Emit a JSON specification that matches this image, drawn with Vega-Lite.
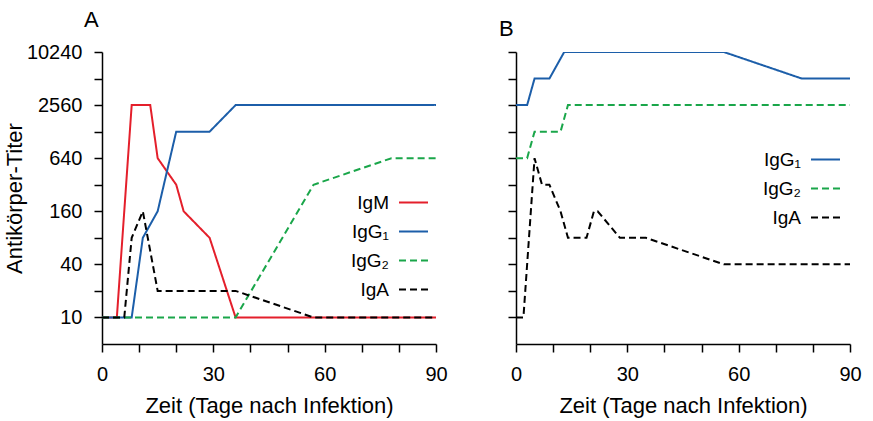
{
  "$schema": "https://vega.github.io/schema/vega-lite/v6.json",
  "padding": {"left": 3, "top": 9, "right": 5, "bottom": 5},
  "background": "white",
  "config": {
    "font": "Liberation Sans",
    "view": {"stroke": null},
    "axis": {
      "domainColor": "black", "tickColor": "black", "domainWidth": 1.5, "tickWidth": 1.5,
      "tickSize": 8, "labelFontSize": 20, "titleFontSize": 22, "titleFontWeight": "normal",
      "labelColor": "black", "titleColor": "black", "grid": false, "labelPadding": 12
    },
    "legend": {
      "orient": "none", "title": null, "labelFontSize": 19, "labelColor": "black",
      "labelAlign": "right", "labelOffset": -40, "symbolType": "stroke", "symbolSize": 841,
      "symbolStrokeWidth": 2, "rowPadding": 3
    },
    "title": {"fontSize": 22, "fontWeight": "normal", "anchor": "start", "frame": "group", "color": "black"}
  },
  "spacing": 80,
  "bounds": "flush",
  "resolve": {"scale": {"color": "independent", "strokeDash": "independent"}, "legend": {"color": "independent", "strokeDash": "independent"}},
  "data": {"values": [
    {"panel": "A", "series": "IgM", "day": 0, "titer": 10},
    {"panel": "A", "series": "IgM", "day": 4, "titer": 10},
    {"panel": "A", "series": "IgM", "day": 8, "titer": 2560},
    {"panel": "A", "series": "IgM", "day": 13, "titer": 2560},
    {"panel": "A", "series": "IgM", "day": 15, "titer": 640},
    {"panel": "A", "series": "IgM", "day": 20, "titer": 320},
    {"panel": "A", "series": "IgM", "day": 22, "titer": 160},
    {"panel": "A", "series": "IgM", "day": 29, "titer": 80},
    {"panel": "A", "series": "IgM", "day": 36, "titer": 10},
    {"panel": "A", "series": "IgM", "day": 90, "titer": 10},
    {"panel": "A", "series": "IgG₁", "day": 0, "titer": 10},
    {"panel": "A", "series": "IgG₁", "day": 8, "titer": 10},
    {"panel": "A", "series": "IgG₁", "day": 11, "titer": 80},
    {"panel": "A", "series": "IgG₁", "day": 15, "titer": 160},
    {"panel": "A", "series": "IgG₁", "day": 20, "titer": 1280},
    {"panel": "A", "series": "IgG₁", "day": 29, "titer": 1280},
    {"panel": "A", "series": "IgG₁", "day": 36, "titer": 2560},
    {"panel": "A", "series": "IgG₁", "day": 90, "titer": 2560},
    {"panel": "A", "series": "IgG₂", "day": 0, "titer": 10},
    {"panel": "A", "series": "IgG₂", "day": 36, "titer": 10},
    {"panel": "A", "series": "IgG₂", "day": 57, "titer": 320},
    {"panel": "A", "series": "IgG₂", "day": 78, "titer": 640},
    {"panel": "A", "series": "IgG₂", "day": 90, "titer": 640},
    {"panel": "A", "series": "IgA", "day": 0, "titer": 10},
    {"panel": "A", "series": "IgA", "day": 6, "titer": 10},
    {"panel": "A", "series": "IgA", "day": 8, "titer": 80},
    {"panel": "A", "series": "IgA", "day": 11, "titer": 160},
    {"panel": "A", "series": "IgA", "day": 15, "titer": 20},
    {"panel": "A", "series": "IgA", "day": 36, "titer": 20},
    {"panel": "A", "series": "IgA", "day": 57, "titer": 10},
    {"panel": "A", "series": "IgA", "day": 90, "titer": 10},
    {"panel": "B", "series": "IgG₁", "day": 0, "titer": 2560},
    {"panel": "B", "series": "IgG₁", "day": 3, "titer": 2560},
    {"panel": "B", "series": "IgG₁", "day": 5, "titer": 5120},
    {"panel": "B", "series": "IgG₁", "day": 9, "titer": 5120},
    {"panel": "B", "series": "IgG₁", "day": 13, "titer": 10240},
    {"panel": "B", "series": "IgG₁", "day": 56, "titer": 10240},
    {"panel": "B", "series": "IgG₁", "day": 77, "titer": 5120},
    {"panel": "B", "series": "IgG₁", "day": 90, "titer": 5120},
    {"panel": "B", "series": "IgG₂", "day": 0, "titer": 640},
    {"panel": "B", "series": "IgG₂", "day": 3, "titer": 640},
    {"panel": "B", "series": "IgG₂", "day": 5, "titer": 1280},
    {"panel": "B", "series": "IgG₂", "day": 12, "titer": 1280},
    {"panel": "B", "series": "IgG₂", "day": 14, "titer": 2560},
    {"panel": "B", "series": "IgG₂", "day": 90, "titer": 2560},
    {"panel": "B", "series": "IgA", "day": 0, "titer": 10},
    {"panel": "B", "series": "IgA", "day": 2, "titer": 10},
    {"panel": "B", "series": "IgA", "day": 5, "titer": 640},
    {"panel": "B", "series": "IgA", "day": 7, "titer": 320},
    {"panel": "B", "series": "IgA", "day": 9, "titer": 320},
    {"panel": "B", "series": "IgA", "day": 12, "titer": 160},
    {"panel": "B", "series": "IgA", "day": 14, "titer": 80},
    {"panel": "B", "series": "IgA", "day": 19, "titer": 80},
    {"panel": "B", "series": "IgA", "day": 21, "titer": 160},
    {"panel": "B", "series": "IgA", "day": 22, "titer": 160},
    {"panel": "B", "series": "IgA", "day": 28, "titer": 80},
    {"panel": "B", "series": "IgA", "day": 35, "titer": 80},
    {"panel": "B", "series": "IgA", "day": 56, "titer": 40},
    {"panel": "B", "series": "IgA", "day": 90, "titer": 40}
  ]},
  "hconcat": [
    {
      "width": 334, "height": 292,
      "title": {"text": "A", "dx": -18, "offset": 10},
      "transform": [{"filter": "datum.panel === 'A'"}],
      "mark": {"type": "line", "strokeWidth": 2, "clip": true},
      "encoding": {
        "x": {"field": "day", "type": "quantitative", "scale": {"domain": [0, 90], "nice": false},
              "axis": {"title": "Zeit (Tage nach Infektion)", "values": [0,10,20,30,40,50,60,70,80,90],
                       "labelExpr": "datum.value % 30 === 0 ? datum.label : ''", "titlePadding": 11, "labelFlush": false}},
        "y": {"field": "titer", "type": "quantitative", "scale": {"type": "log", "base": 2, "domain": [5, 10240], "nice": false},
              "axis": {"title": "Antikörper-Titer", "values": [10,20,40,80,160,320,640,1280,2560,5120,10240], "format": "d",
                       "labelExpr": "indexof([10,40,160,640,2560,10240], datum.value) >= 0 ? datum.label : ''", "titlePadding": 0}},
        "color": {"field": "series", "type": "nominal",
                  "scale": {"domain": ["IgM", "IgG₁", "IgG₂", "IgA"], "range": ["#e41f2b", "#1c5ea9", "#1aa64a", "#000000"]},
                  "legend": {"legendX": 296, "legendY": 135}},
        "strokeDash": {"field": "series", "type": "nominal",
                  "scale": {"domain": ["IgM", "IgG₁", "IgG₂", "IgA"], "range": [[1, 0], [1, 0], [7, 4], [7, 4]]},
                  "legend": {"legendX": 296, "legendY": 135}}
      }
    },
    {
      "width": 334, "height": 292,
      "title": {"text": "B", "dx": -17, "offset": 10},
      "transform": [{"filter": "datum.panel === 'B'"}],
      "mark": {"type": "line", "strokeWidth": 2, "clip": true},
      "encoding": {
        "x": {"field": "day", "type": "quantitative", "scale": {"domain": [0, 90], "nice": false},
              "axis": {"title": "Zeit (Tage nach Infektion)", "values": [0,10,20,30,40,50,60,70,80,90],
                       "labelExpr": "datum.value % 30 === 0 ? datum.label : ''", "titlePadding": 11, "labelFlush": false}},
        "y": {"field": "titer", "type": "quantitative", "scale": {"type": "log", "base": 2, "domain": [5, 10240], "nice": false},
              "axis": {"title": null, "labels": false, "values": [10,20,40,80,160,320,640,1280,2560,5120,10240]}},
        "color": {"field": "series", "type": "nominal",
                  "scale": {"domain": ["IgG₁", "IgG₂", "IgA"], "range": ["#1c5ea9", "#1aa64a", "#000000"]},
                  "legend": {"legendX": 294, "legendY": 92}},
        "strokeDash": {"field": "series", "type": "nominal",
                  "scale": {"domain": ["IgG₁", "IgG₂", "IgA"], "range": [[1, 0], [7, 4], [7, 4]]},
                  "legend": {"legendX": 294, "legendY": 92}}
      }
    }
  ]
}
